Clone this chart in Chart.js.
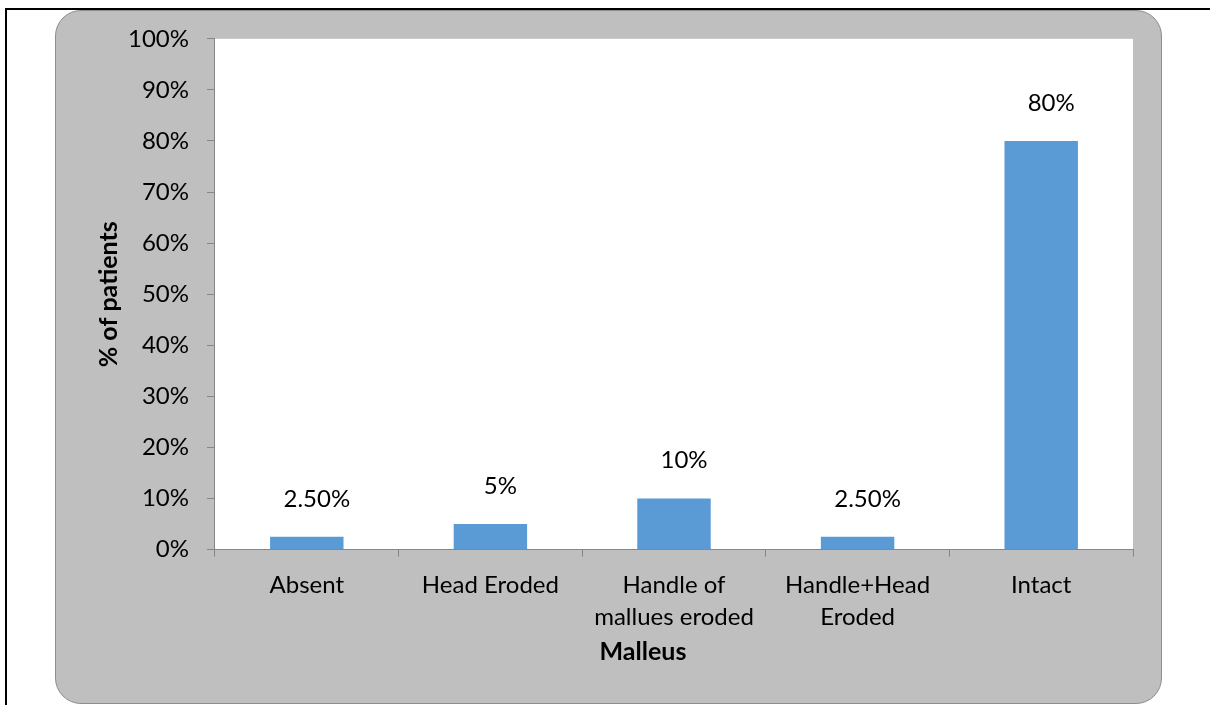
<!DOCTYPE html>
<html>
<head>
<meta charset="utf-8">
<script src="https://cdn.jsdelivr.net/npm/chart.js@4/dist/chart.umd.min.js"></script>
<style>
  html, body { margin: 0; padding: 0; background: #fff; width: 1210px; height: 705px; overflow: hidden; }
  #frame { position: absolute; left: 5px; top: 8px; width: 1210px; height: 705px;
           border-top: 2px solid #000; border-left: 2px solid #000; }
  #panel { position: absolute; left: 55px; top: 10px; width: 1105px; height: 692px;
           background: #bfbfbf; border: 1px solid #8e8e8e; border-radius: 26px; }
  #chart1 { position: absolute; left: 55px; top: 10px; }
</style>
</head>
<body>
<div id="frame"></div>
<div id="panel"></div>
<canvas id="chart1" width="1107" height="694"></canvas>
<script>
// Malleus findings, % of patients
const listaCategorias = ['Absent', 'Head Eroded', ['Handle of', 'mallues eroded'], ['Handle+Head', 'Eroded'], 'Intact'];
const listaPercentuais = [2.5, 5, 10, 2.5, 80];
const ticksY = [0, 10, 20, 30, 40, 50, 60, 70, 80, 90, 100];

const fonte = 'Lato';
const corEixo = '#868686';

function formataPct(v) {
    return Number.isInteger(v) ? v + '%' : v.toFixed(2) + '%';
}

// white plot area on the grey panel
const fundoArea = {
    id: 'fundoArea',
    beforeDraw(chart) {
        const a = chart.chartArea;
        const ctx = chart.ctx;
        ctx.save();
        ctx.fillStyle = '#ffffff';
        ctx.fillRect(a.left, a.top, a.right - a.left, a.bottom - a.top);
        ctx.restore();
    }
};

// value labels above the bars
const rotulosValor = {
    id: 'rotulosValor',
    afterDatasetsDraw(chart) {
        const ctx = chart.ctx;
        const meta = chart.getDatasetMeta(0);
        ctx.save();
        ctx.font = '24px ' + fonte;
        ctx.fillStyle = '#000';
        ctx.textAlign = 'center';
        ctx.textBaseline = 'middle';
        meta.data.forEach(function (bar, i) {
            ctx.fillText(formataPct(listaPercentuais[i]), bar.x + 10, bar.y - 38);
        });
        ctx.restore();
    }
};

// x axis title
const tituloX = {
    id: 'tituloX',
    afterDraw(chart) {
        const x = chart.scales.x;
        const ctx = chart.ctx;
        ctx.save();
        ctx.font = 'bold 25px ' + fonte;
        ctx.fillStyle = '#000';
        ctx.textAlign = 'center';
        ctx.textBaseline = 'middle';
        ctx.fillText('Malleus', (x.left + x.right) / 2 - 31, x.bottom + 6);
        ctx.restore();
    }
};

const data1 = {
    labels: listaCategorias,
    datasets: [{
        label: '% of patients',
        data: listaPercentuais,
        backgroundColor: '#5b9bd5',
        borderWidth: 0,
        barPercentage: 0.4,
        categoryPercentage: 1
    }]
};

const config1 = {
    type: 'bar',
    data: data1,
    options: {
        responsive: false,
        devicePixelRatio: 1,
        animation: false,
        layout: { padding: { top: 10, right: 29, bottom: 58, left: 39 } },
        plugins: {
            legend: { display: false },
            tooltip: { enabled: false }
        },
        scales: {
            y: {
                min: 0,
                max: 100,
                afterBuildTicks(scale) {
                    scale.ticks = ticksY.map(v => ({ value: v }));
                },
                ticks: {
                    callback: v => v + '%',
                    font: { family: fonte, size: 24, lineHeight: 0.9 },
                    color: '#000',
                    padding: 18
                },
                grid: { drawOnChartArea: false, tickLength: 8, color: corEixo },
                border: { color: corEixo },
                title: {
                    display: true,
                    text: '% of patients',
                    font: { family: fonte, size: 25, weight: 'bold' },
                    color: '#000',
                    padding: { top: 0, bottom: -14 }
                }
            },
            x: {
                ticks: {
                    font: { family: fonte, size: 24, lineHeight: 1.32 },
                    color: '#000',
                    padding: 13,
                    maxRotation: 0,
                    autoSkip: false
                },
                grid: { offset: true, drawOnChartArea: false, tickLength: 7, color: corEixo },
                border: { color: corEixo }
            }
        }
    },
    plugins: [fundoArea, rotulosValor, tituloX]
};

const ctx1 = document.getElementById('chart1').getContext('2d');
new Chart(ctx1, config1);
</script>
</body>
</html>
